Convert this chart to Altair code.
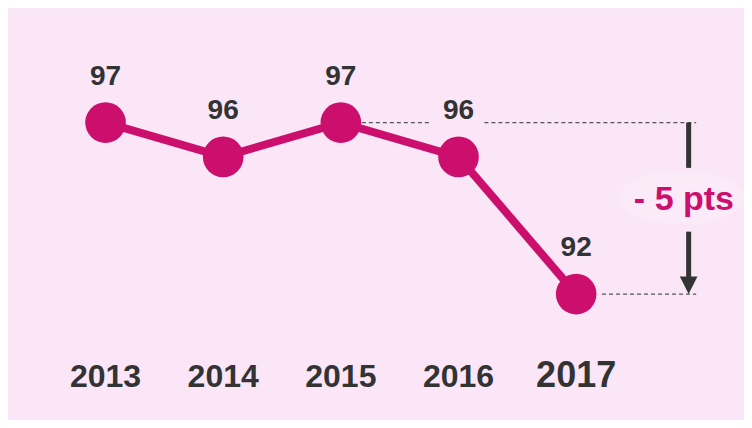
import altair as alt
import pandas as pd

years = [2013, 2014, 2015, 2016, 2017]
values = [97, 96, 97, 96, 92]
year_labels = ["2013", "2014", "2015", "2016", "2017"]
year_sizes = [32, 32, 32, 32, 36]

# annotation: reference dashed lines and the "- 5 pts" arrow
ref_segments_x = [2015.0, 2016.22, 2017.22]
ref_segments_x2 = [2015.77, 2018.02, 2018.02]
ref_segments_y = [97, 97, 92]
arrow_x = 2017.956
arrow_seg_y = [97, 93.82]
arrow_seg_y2 = [95.68, 92.5]
arrow_tip_y = 92
delta_label = "- 5 pts"
delta_label_y = 94.75
halo_x = 2017.893
halo_y = 94.8

MAGENTA = "#cc0f6c"
DARK = "#333333"
BG = "#fae6f7"
HALO = "#fbebf8"
FONT = "Liberation Sans"

xs = alt.Scale(domain=[2012.171, 2018.418], nice=False, zero=False)
ys = alt.Scale(domain=[88.33, 100.34], nice=False, zero=False)

df = pd.DataFrame({"year": years, "value": values, "label": year_labels, "fs": year_sizes})
refs = pd.DataFrame({"x": ref_segments_x, "x2": ref_segments_x2, "y": ref_segments_y})
arrow = pd.DataFrame({"x": [arrow_x] * 2, "y": arrow_seg_y, "y2": arrow_seg_y2})
tip = pd.DataFrame({"x": [arrow_x], "y": [arrow_tip_y]})
dl = pd.DataFrame({"x": [arrow_x - 0.04], "y": [delta_label_y], "t": [delta_label]})
halo = pd.DataFrame({"x": [halo_x], "y": [halo_y]})

X = lambda f="year": alt.X(f"{f}:Q", scale=xs, axis=None)
Y = lambda f="value": alt.Y(f"{f}:Q", scale=ys, axis=None)

ref_rules = alt.Chart(refs).mark_rule(color="#555555", strokeWidth=1.3, strokeDash=[4, 3]).encode(
    x=X("x"), x2="x2:Q", y=Y("y")
)
arrow_rules = alt.Chart(arrow).mark_rule(color=DARK, strokeWidth=5).encode(
    x=X("x"), y=Y("y"), y2="y2:Q"
)
arrow_head = alt.Chart(tip).mark_point(
    shape="M-1,-2L1,-2L0,0Z", filled=True, color=DARK, opacity=1, size=310
).encode(x=X("x"), y=Y("y"))
halo_mark = alt.Chart(halo).mark_point(
    shape="M-1,0A1,0.42,0,1,0,1,0A1,0.42,0,1,0,-1,0Z", filled=True, color=HALO, opacity=1, size=15625
).encode(x=X("x"), y=Y("y"))
delta_text = alt.Chart(dl).mark_text(
    font=FONT, fontWeight="bold", fontSize=34, color=MAGENTA, baseline="middle", align="center"
).encode(x=X("x"), y=Y("y"), text="t:N")

line = alt.Chart(df).mark_line(color=MAGENTA, strokeWidth=8).encode(x=X(), y=Y())
pts = alt.Chart(df).mark_circle(color=MAGENTA, opacity=1, size=1650).encode(x=X(), y=Y())
vlabels = alt.Chart(df).mark_text(
    font=FONT, fontWeight="bold", fontSize=28, color=DARK, baseline="alphabetic", dy=-38
).encode(x=X(), y=Y(), text="value:Q")
ylabels = alt.Chart(df).mark_text(
    font=FONT, fontWeight="bold", color=DARK, baseline="alphabetic"
).encode(x=X(), y=alt.value(379), text="label:N", size=alt.Size("fs:Q", scale=None, legend=None))

chart = alt.layer(
    halo_mark, ref_rules, arrow_rules, arrow_head, line, pts, vlabels, ylabels, delta_text
).properties(
    width=736, height=412, padding=0, background=BG,
    autosize=alt.AutoSizeParams(type="fit", contains="padding"),
).configure_view(stroke=None)

chart.save("out.html", embed_options={"renderer": "svg", "actions": False})
